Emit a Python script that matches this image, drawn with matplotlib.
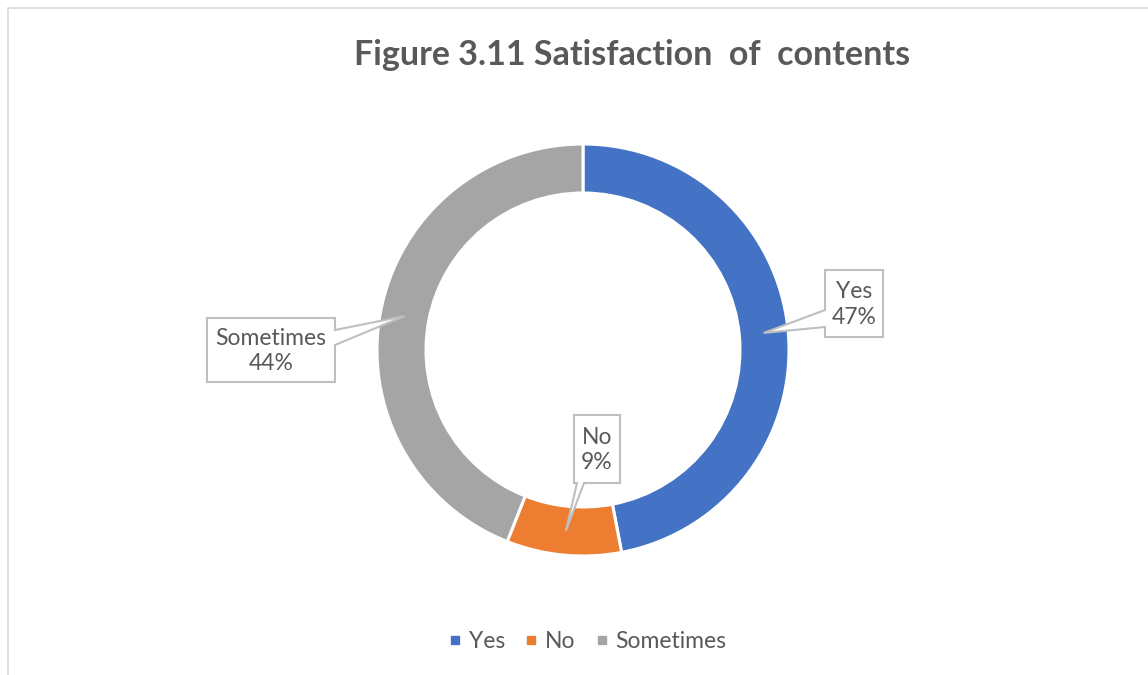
import numpy as np
import matplotlib
matplotlib.use("Agg")
import matplotlib.pyplot as plt
from matplotlib.patches import Polygon, Rectangle
from matplotlib.lines import Line2D

# Survey answers
categories = ["Yes", "No", "Sometimes"]
shares = [47, 9, 44]
colors = ["#4472C4", "#ED7D31", "#A5A5A5"]
title = "Figure 3.11 Satisfaction  of  contents"

W, H = 1148, 675
TEXT = "#595959"
FONT = "Lato"

fig = plt.figure(figsize=(W / 100, H / 100), dpi=100)
fig.patch.set_facecolor("white")


def frac(x, y):
    """Pixel position measured from the top-left corner -> figure fraction."""
    return x / W, 1 - y / H


# chart-area border
fig.add_artist(Rectangle(frac(8, H + 5), (W - 8 + 5) / W, (H - 8 + 5) / H,
                         transform=fig.transFigure, fill=False,
                         edgecolor="#d9d9d9", linewidth=1.2))

# doughnut
cx, cy, R = 583, 350, 206
inner = 157
ax = fig.add_axes([(cx - R) / W, (H - cy - R) / H, 2 * R / W, 2 * R / H])
wedges, _ = ax.pie(shares, colors=colors, startangle=90, counterclock=False,
                   radius=1,
                   wedgeprops=dict(width=(R - inner) / R, edgecolor="white",
                                   linewidth=2.2))
for w in wedges:
    w.set_clip_on(False)
ax.set_xlim(-1, 1)
ax.set_ylim(-1, 1)
ax.set_aspect("equal")
ax.axis("off")

fig.text(*frac(632, 55), title, ha="center", va="center", fontsize=24.5,
         fontweight="bold", color=TEXT, family=FONT)

# callout boxes: (left, top, right, bottom) in px, pointer side, pointer base span
boxes = {
    "Yes": ((825, 270, 883, 337), "left", (310, 327)),
    "No": ((574, 415, 620, 483), "bottom", (577, 584)),
    "Sometimes": ((207, 318, 335, 382), "right", (330, 345)),
}

mid_r = 1 - (R - inner) / R / 2
to_fig = fig.transFigure.inverted()
cum = 0.0
total = sum(shares)
for cat, val in zip(categories, shares):
    mid = 90 - 360 * (cum + val / 2) / total
    cum += val
    tip_disp = ax.transData.transform((mid_r * np.cos(np.radians(mid)),
                                       mid_r * np.sin(np.radians(mid))))
    tip = tuple(to_fig.transform(tip_disp))
    (l, t, r, b), side, (p0, p1) = boxes[cat]
    if side == "left":
        pts = [frac(l, t), frac(r, t), frac(r, b), frac(l, b),
               frac(l, p1), tip, frac(l, p0)]
    elif side == "right":
        pts = [frac(l, t), frac(r, t), frac(r, p0), tip, frac(r, p1),
               frac(r, b), frac(l, b)]
    else:
        pts = [frac(l, t), frac(r, t), frac(r, b), frac(p1, b), tip,
               frac(p0, b), frac(l, b)]
    fig.add_artist(Polygon(pts, closed=True, transform=fig.transFigure,
                           facecolor="white", edgecolor="#bfbfbf",
                           linewidth=1.5, joinstyle="miter"))
    fig.text(*frac((l + r) / 2, (t + b) / 2 + 1), f"{cat}\n{val}%",
             ha="center", va="center", fontsize=16.5, color=TEXT,
             family=FONT, linespacing=1.25)

handles = [Line2D([], [], marker="s", linestyle="none", markersize=6,
                  markerfacecolor=c, markeredgecolor=c) for c in colors]
fig.legend(handles, categories, loc="center", bbox_to_anchor=frac(588, 642),
           ncol=3, frameon=False, handlelength=0.5, handletextpad=0.34,
           columnspacing=0.9, prop={"family": FONT, "size": 16.5},
           labelcolor=TEXT)

fig.savefig("out.png", dpi=100, facecolor="white")
